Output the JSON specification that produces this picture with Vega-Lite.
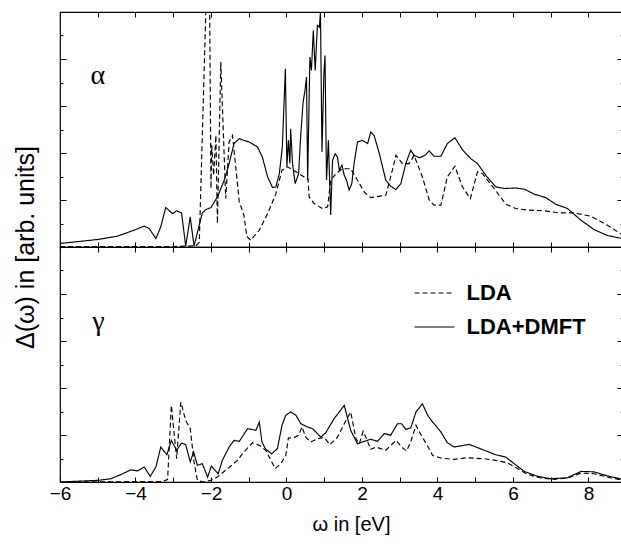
{
"$schema": "https://vega.github.io/schema/vega-lite/v6.json",
"padding": {"left": 12, "top": 10, "right": 0, "bottom": 0},
"spacing": 0,
"bounds": "flush",
"config": {
  "font": "Liberation Sans",
  "view": {"stroke": "black", "strokeWidth": 1.2},
  "axis": {"domain": false, "grid": false, "tickColor": "black", "tickWidth": 1, "labelColor": "black", "titleColor": "black", "labelFont": "Liberation Sans", "titleFont": "Liberation Sans", "titleFontWeight": "normal"}
},
"datasets": {
"alpha": [
{"w":-6,"d":0.15,"s":"LDA+DMFT"},{"w":-5,"d":0.32,"s":"LDA+DMFT"},{"w":-4.48,"d":0.46,"s":"LDA+DMFT"},{"w":-4.03,"d":0.72,"s":"LDA+DMFT"},{"w":-3.77,"d":0.89,"s":"LDA+DMFT"},{"w":-3.64,"d":0.79,"s":"LDA+DMFT"},{"w":-3.46,"d":0.36,"s":"LDA+DMFT"},{"w":-3.33,"d":0.86,"s":"LDA+DMFT"},{"w":-3.2,"d":1.68,"s":"LDA+DMFT"},{"w":-3.02,"d":1.42,"s":"LDA+DMFT"},{"w":-2.91,"d":1.54,"s":"LDA+DMFT"},{"w":-2.78,"d":1.45,"s":"LDA+DMFT"},{"w":-2.67,"d":0.04,"s":"LDA+DMFT"},{"w":-2.55,"d":1.28,"s":"LDA+DMFT"},{"w":-2.45,"d":0.04,"s":"LDA+DMFT"},{"w":-2.23,"d":1.45,"s":"LDA+DMFT"},{"w":-2.14,"d":1.59,"s":"LDA+DMFT"},{"w":-2.0,"d":1.68,"s":"LDA+DMFT"},{"w":-1.83,"d":2.13,"s":"LDA+DMFT"},{"w":-1.65,"d":2.84,"s":"LDA+DMFT"},{"w":-1.52,"d":3.55,"s":"LDA+DMFT"},{"w":-1.39,"d":4.4,"s":"LDA+DMFT"},{"w":-1.25,"d":4.61,"s":"LDA+DMFT"},{"w":-1.1,"d":4.52,"s":"LDA+DMFT"},{"w":-0.99,"d":4.47,"s":"LDA+DMFT"},{"w":-0.77,"d":4.26,"s":"LDA+DMFT"},{"w":-0.64,"d":3.83,"s":"LDA+DMFT"},{"w":-0.5,"d":2.98,"s":"LDA+DMFT"},{"w":-0.37,"d":2.53,"s":"LDA+DMFT"},{"w":-0.28,"d":2.56,"s":"LDA+DMFT"},{"w":-0.19,"d":3.12,"s":"LDA+DMFT"},{"w":-0.11,"d":4.26,"s":"LDA+DMFT"},{"w":-0.03,"d":7.58,"s":"LDA+DMFT"},{"w":0.01,"d":3.41,"s":"LDA+DMFT"},{"w":0.05,"d":4.54,"s":"LDA+DMFT"},{"w":0.09,"d":3.55,"s":"LDA+DMFT"},{"w":0.11,"d":5.03,"s":"LDA+DMFT"},{"w":0.16,"d":3.55,"s":"LDA+DMFT"},{"w":0.23,"d":2.7,"s":"LDA+DMFT"},{"w":0.32,"d":3.12,"s":"LDA+DMFT"},{"w":0.38,"d":4.82,"s":"LDA+DMFT"},{"w":0.44,"d":6.17,"s":"LDA+DMFT"},{"w":0.49,"d":6.66,"s":"LDA+DMFT"},{"w":0.53,"d":7.23,"s":"LDA+DMFT"},{"w":0.56,"d":2.84,"s":"LDA+DMFT"},{"w":0.62,"d":8.08,"s":"LDA+DMFT"},{"w":0.66,"d":7.51,"s":"LDA+DMFT"},{"w":0.71,"d":9.21,"s":"LDA+DMFT"},{"w":0.76,"d":7.51,"s":"LDA+DMFT"},{"w":0.82,"d":9.43,"s":"LDA+DMFT"},{"w":0.87,"d":9.35,"s":"LDA+DMFT"},{"w":0.9,"d":9.99,"s":"LDA+DMFT"},{"w":0.94,"d":4.04,"s":"LDA+DMFT"},{"w":0.99,"d":7.37,"s":"LDA+DMFT"},{"w":1.02,"d":8.15,"s":"LDA+DMFT"},{"w":1.06,"d":2.84,"s":"LDA+DMFT"},{"w":1.11,"d":4.54,"s":"LDA+DMFT"},{"w":1.17,"d":1.36,"s":"LDA+DMFT"},{"w":1.22,"d":3.69,"s":"LDA+DMFT"},{"w":1.29,"d":3.97,"s":"LDA+DMFT"},{"w":1.35,"d":3.83,"s":"LDA+DMFT"},{"w":1.4,"d":3.27,"s":"LDA+DMFT"},{"w":1.47,"d":3.48,"s":"LDA+DMFT"},{"w":1.53,"d":3.05,"s":"LDA+DMFT"},{"w":1.59,"d":2.84,"s":"LDA+DMFT"},{"w":1.66,"d":2.42,"s":"LDA+DMFT"},{"w":1.73,"d":2.7,"s":"LDA+DMFT"},{"w":1.79,"d":3.55,"s":"LDA+DMFT"},{"w":1.88,"d":4.47,"s":"LDA+DMFT"},{"w":2.01,"d":4.54,"s":"LDA+DMFT"},{"w":2.15,"d":4.4,"s":"LDA+DMFT"},{"w":2.23,"d":4.89,"s":"LDA+DMFT"},{"w":2.32,"d":4.75,"s":"LDA+DMFT"},{"w":2.46,"d":3.97,"s":"LDA+DMFT"},{"w":2.63,"d":2.84,"s":"LDA+DMFT"},{"w":2.76,"d":2.59,"s":"LDA+DMFT"},{"w":2.9,"d":2.44,"s":"LDA+DMFT"},{"w":3.03,"d":2.7,"s":"LDA+DMFT"},{"w":3.16,"d":3.55,"s":"LDA+DMFT"},{"w":3.29,"d":4.12,"s":"LDA+DMFT"},{"w":3.38,"d":3.9,"s":"LDA+DMFT"},{"w":3.52,"d":3.8,"s":"LDA+DMFT"},{"w":3.67,"d":3.9,"s":"LDA+DMFT"},{"w":3.78,"d":4.09,"s":"LDA+DMFT"},{"w":3.91,"d":3.86,"s":"LDA+DMFT"},{"w":4.09,"d":3.86,"s":"LDA+DMFT"},{"w":4.26,"d":4.4,"s":"LDA+DMFT"},{"w":4.46,"d":4.65,"s":"LDA+DMFT"},{"w":4.66,"d":4.14,"s":"LDA+DMFT"},{"w":4.88,"d":3.76,"s":"LDA+DMFT"},{"w":5.06,"d":3.55,"s":"LDA+DMFT"},{"w":5.28,"d":3.05,"s":"LDA+DMFT"},{"w":5.54,"d":2.56,"s":"LDA+DMFT"},{"w":5.77,"d":2.49,"s":"LDA+DMFT"},{"w":6.07,"d":2.51,"s":"LDA+DMFT"},{"w":6.3,"d":2.46,"s":"LDA+DMFT"},{"w":6.56,"d":2.25,"s":"LDA+DMFT"},{"w":6.87,"d":2.1,"s":"LDA+DMFT"},{"w":7.13,"d":1.82,"s":"LDA+DMFT"},{"w":7.44,"d":1.64,"s":"LDA+DMFT"},{"w":7.8,"d":1.14,"s":"LDA+DMFT"},{"w":8.15,"d":0.74,"s":"LDA+DMFT"},{"w":8.5,"d":0.49,"s":"LDA+DMFT"},{"w":8.95,"d":0.34,"s":"LDA+DMFT"},
{"w":-6,"d":0.02,"s":"LDA"},{"w":-3,"d":0.02,"s":"LDA"},{"w":-2.4,"d":0.05,"s":"LDA"},{"w":-2.31,"d":0.2,"s":"LDA"},{"w":-2.12,"d":11,"s":"LDA"},{"w":-2.04,"d":11,"s":"LDA"},{"w":-2.0,"d":2.49,"s":"LDA"},{"w":-1.98,"d":4.33,"s":"LDA"},{"w":-1.93,"d":3.05,"s":"LDA"},{"w":-1.87,"d":4.75,"s":"LDA"},{"w":-1.83,"d":1.0,"s":"LDA"},{"w":-1.74,"d":7.87,"s":"LDA"},{"w":-1.61,"d":2.06,"s":"LDA"},{"w":-1.52,"d":4.47,"s":"LDA"},{"w":-1.43,"d":4.75,"s":"LDA"},{"w":-1.25,"d":1.92,"s":"LDA"},{"w":-1.13,"d":1.36,"s":"LDA"},{"w":-1.05,"d":0.45,"s":"LDA"},{"w":-0.95,"d":0.29,"s":"LDA"},{"w":-0.72,"d":0.72,"s":"LDA"},{"w":-0.5,"d":1.42,"s":"LDA"},{"w":-0.28,"d":2.27,"s":"LDA"},{"w":-0.12,"d":3.27,"s":"LDA"},{"w":0.03,"d":3.41,"s":"LDA"},{"w":0.25,"d":3.2,"s":"LDA"},{"w":0.47,"d":2.98,"s":"LDA"},{"w":0.57,"d":2.9,"s":"LDA"},{"w":0.6,"d":2.13,"s":"LDA"},{"w":0.73,"d":1.85,"s":"LDA"},{"w":0.95,"d":1.64,"s":"LDA"},{"w":1.09,"d":1.71,"s":"LDA"},{"w":1.17,"d":2.84,"s":"LDA"},{"w":1.31,"d":3.12,"s":"LDA"},{"w":1.48,"d":3.33,"s":"LDA"},{"w":1.7,"d":3.33,"s":"LDA"},{"w":1.88,"d":2.84,"s":"LDA"},{"w":2.06,"d":2.34,"s":"LDA"},{"w":2.23,"d":2.1,"s":"LDA"},{"w":2.63,"d":2.2,"s":"LDA"},{"w":2.76,"d":2.98,"s":"LDA"},{"w":2.9,"d":3.9,"s":"LDA"},{"w":3.07,"d":3.55,"s":"LDA"},{"w":3.25,"d":3.55,"s":"LDA"},{"w":3.38,"d":3.9,"s":"LDA"},{"w":3.6,"d":2.98,"s":"LDA"},{"w":3.78,"d":2.0,"s":"LDA"},{"w":3.91,"d":1.78,"s":"LDA"},{"w":4.09,"d":1.78,"s":"LDA"},{"w":4.26,"d":2.98,"s":"LDA"},{"w":4.46,"d":3.44,"s":"LDA"},{"w":4.66,"d":2.56,"s":"LDA"},{"w":4.87,"d":2.06,"s":"LDA"},{"w":5.06,"d":3.2,"s":"LDA"},{"w":5.19,"d":3.12,"s":"LDA"},{"w":5.5,"d":2.49,"s":"LDA"},{"w":5.81,"d":1.82,"s":"LDA"},{"w":6.07,"d":1.64,"s":"LDA"},{"w":6.38,"d":1.57,"s":"LDA"},{"w":6.83,"d":1.54,"s":"LDA"},{"w":7.22,"d":1.45,"s":"LDA"},{"w":7.62,"d":1.45,"s":"LDA"},{"w":8.06,"d":1.31,"s":"LDA"},{"w":8.5,"d":0.93,"s":"LDA"},{"w":8.95,"d":0.46,"s":"LDA"}
],
"gamma": [
{"w":-6,"d":0.0,"s":"LDA+DMFT"},{"w":-5,"d":0.07,"s":"LDA+DMFT"},{"w":-4.65,"d":0.14,"s":"LDA+DMFT"},{"w":-4.34,"d":0.35,"s":"LDA+DMFT"},{"w":-4.12,"d":0.52,"s":"LDA+DMFT"},{"w":-3.95,"d":0.47,"s":"LDA+DMFT"},{"w":-3.77,"d":0.64,"s":"LDA+DMFT"},{"w":-3.61,"d":0.24,"s":"LDA+DMFT"},{"w":-3.46,"d":0.64,"s":"LDA+DMFT"},{"w":-3.33,"d":1.49,"s":"LDA+DMFT"},{"w":-3.17,"d":1.16,"s":"LDA+DMFT"},{"w":-3.05,"d":1.77,"s":"LDA+DMFT"},{"w":-2.91,"d":1.35,"s":"LDA+DMFT"},{"w":-2.78,"d":1.66,"s":"LDA+DMFT"},{"w":-2.67,"d":1.59,"s":"LDA+DMFT"},{"w":-2.55,"d":0.85,"s":"LDA+DMFT"},{"w":-2.46,"d":1.28,"s":"LDA+DMFT"},{"w":-2.36,"d":0.71,"s":"LDA+DMFT"},{"w":-2.23,"d":0.78,"s":"LDA+DMFT"},{"w":-2.09,"d":0.21,"s":"LDA+DMFT"},{"w":-1.99,"d":0.68,"s":"LDA+DMFT"},{"w":-1.81,"d":0.35,"s":"LDA+DMFT"},{"w":-1.7,"d":0.92,"s":"LDA+DMFT"},{"w":-1.52,"d":1.49,"s":"LDA+DMFT"},{"w":-1.39,"d":1.77,"s":"LDA+DMFT"},{"w":-1.25,"d":1.73,"s":"LDA+DMFT"},{"w":-1.1,"d":2.1,"s":"LDA+DMFT"},{"w":-1.03,"d":2.27,"s":"LDA+DMFT"},{"w":-0.81,"d":2.2,"s":"LDA+DMFT"},{"w":-0.72,"d":2.55,"s":"LDA+DMFT"},{"w":-0.65,"d":1.7,"s":"LDA+DMFT"},{"w":-0.55,"d":1.39,"s":"LDA+DMFT"},{"w":-0.39,"d":1.2,"s":"LDA+DMFT"},{"w":-0.24,"d":1.42,"s":"LDA+DMFT"},{"w":-0.12,"d":2.41,"s":"LDA+DMFT"},{"w":-0.02,"d":2.84,"s":"LDA+DMFT"},{"w":0.11,"d":2.98,"s":"LDA+DMFT"},{"w":0.25,"d":2.84,"s":"LDA+DMFT"},{"w":0.38,"d":2.48,"s":"LDA+DMFT"},{"w":0.56,"d":2.34,"s":"LDA+DMFT"},{"w":0.69,"d":2.27,"s":"LDA+DMFT"},{"w":0.91,"d":1.91,"s":"LDA+DMFT"},{"w":1.04,"d":2.1,"s":"LDA+DMFT"},{"w":1.26,"d":2.69,"s":"LDA+DMFT"},{"w":1.53,"d":3.26,"s":"LDA+DMFT"},{"w":1.7,"d":2.2,"s":"LDA+DMFT"},{"w":1.88,"d":1.63,"s":"LDA+DMFT"},{"w":2.01,"d":1.7,"s":"LDA+DMFT"},{"w":2.23,"d":1.82,"s":"LDA+DMFT"},{"w":2.41,"d":1.73,"s":"LDA+DMFT"},{"w":2.59,"d":2.06,"s":"LDA+DMFT"},{"w":2.76,"d":1.99,"s":"LDA+DMFT"},{"w":2.94,"d":2.48,"s":"LDA+DMFT"},{"w":3.05,"d":2.48,"s":"LDA+DMFT"},{"w":3.16,"d":2.24,"s":"LDA+DMFT"},{"w":3.29,"d":2.3,"s":"LDA+DMFT"},{"w":3.43,"d":2.98,"s":"LDA+DMFT"},{"w":3.6,"d":3.33,"s":"LDA+DMFT"},{"w":3.74,"d":2.84,"s":"LDA+DMFT"},{"w":3.87,"d":2.55,"s":"LDA+DMFT"},{"w":4.09,"d":2.13,"s":"LDA+DMFT"},{"w":4.26,"d":1.67,"s":"LDA+DMFT"},{"w":4.44,"d":1.49,"s":"LDA+DMFT"},{"w":4.84,"d":1.6,"s":"LDA+DMFT"},{"w":5.24,"d":1.35,"s":"LDA+DMFT"},{"w":5.54,"d":1.16,"s":"LDA+DMFT"},{"w":5.81,"d":1.06,"s":"LDA+DMFT"},{"w":6.03,"d":0.78,"s":"LDA+DMFT"},{"w":6.3,"d":0.45,"s":"LDA+DMFT"},{"w":6.65,"d":0.24,"s":"LDA+DMFT"},{"w":7.0,"d":0.14,"s":"LDA+DMFT"},{"w":7.44,"d":0.18,"s":"LDA+DMFT"},{"w":7.8,"d":0.45,"s":"LDA+DMFT"},{"w":8.15,"d":0.43,"s":"LDA+DMFT"},{"w":8.5,"d":0.26,"s":"LDA+DMFT"},{"w":8.95,"d":0.1,"s":"LDA+DMFT"},
{"w":-6,"d":0.0,"s":"LDA"},{"w":-3.3,"d":0.02,"s":"LDA"},{"w":-3.15,"d":0.1,"s":"LDA"},{"w":-3.05,"d":3.26,"s":"LDA"},{"w":-2.91,"d":0.99,"s":"LDA"},{"w":-2.8,"d":3.4,"s":"LDA"},{"w":-2.67,"d":2.62,"s":"LDA"},{"w":-2.55,"d":2.27,"s":"LDA"},{"w":-2.45,"d":0.85,"s":"LDA"},{"w":-2.36,"d":0.07,"s":"LDA"},{"w":-2.2,"d":0.0,"s":"LDA"},{"w":-2.0,"d":0.07,"s":"LDA"},{"w":-1.83,"d":0.21,"s":"LDA"},{"w":-1.56,"d":0.57,"s":"LDA"},{"w":-1.3,"d":0.92,"s":"LDA"},{"w":-1.17,"d":1.2,"s":"LDA"},{"w":-0.9,"d":1.67,"s":"LDA"},{"w":-0.72,"d":1.56,"s":"LDA"},{"w":-0.55,"d":1.35,"s":"LDA"},{"w":-0.39,"d":0.85,"s":"LDA"},{"w":-0.3,"d":0.57,"s":"LDA"},{"w":-0.15,"d":0.78,"s":"LDA"},{"w":-0.02,"d":1.13,"s":"LDA"},{"w":0.05,"d":1.87,"s":"LDA"},{"w":0.2,"d":1.89,"s":"LDA"},{"w":0.32,"d":1.99,"s":"LDA"},{"w":0.41,"d":2.34,"s":"LDA"},{"w":0.51,"d":1.91,"s":"LDA"},{"w":0.64,"d":1.7,"s":"LDA"},{"w":0.82,"d":1.84,"s":"LDA"},{"w":1.0,"d":1.89,"s":"LDA"},{"w":1.15,"d":1.59,"s":"LDA"},{"w":1.35,"d":1.91,"s":"LDA"},{"w":1.53,"d":2.48,"s":"LDA"},{"w":1.7,"d":2.98,"s":"LDA"},{"w":1.84,"d":1.84,"s":"LDA"},{"w":1.93,"d":1.63,"s":"LDA"},{"w":2.03,"d":2.16,"s":"LDA"},{"w":2.12,"d":1.84,"s":"LDA"},{"w":2.23,"d":1.39,"s":"LDA"},{"w":2.37,"d":1.49,"s":"LDA"},{"w":2.63,"d":1.35,"s":"LDA"},{"w":2.9,"d":1.77,"s":"LDA"},{"w":3.05,"d":1.49,"s":"LDA"},{"w":3.18,"d":1.32,"s":"LDA"},{"w":3.29,"d":1.7,"s":"LDA"},{"w":3.43,"d":2.41,"s":"LDA"},{"w":3.52,"d":2.13,"s":"LDA"},{"w":3.65,"d":1.77,"s":"LDA"},{"w":3.8,"d":1.35,"s":"LDA"},{"w":3.87,"d":1.13,"s":"LDA"},{"w":4.09,"d":1.02,"s":"LDA"},{"w":4.44,"d":0.96,"s":"LDA"},{"w":4.75,"d":1.03,"s":"LDA"},{"w":5.24,"d":0.99,"s":"LDA"},{"w":5.54,"d":0.92,"s":"LDA"},{"w":5.85,"d":0.82,"s":"LDA"},{"w":6.12,"d":0.57,"s":"LDA"},{"w":6.38,"d":0.33,"s":"LDA"},{"w":6.74,"d":0.17,"s":"LDA"},{"w":7.09,"d":0.11,"s":"LDA"},{"w":7.44,"d":0.17,"s":"LDA"},{"w":7.8,"d":0.38,"s":"LDA"},{"w":8.15,"d":0.35,"s":"LDA"},{"w":8.5,"d":0.21,"s":"LDA"},{"w":8.95,"d":0.06,"s":"LDA"}
]
},
"resolve": {"scale": {"strokeDash": "independent"}, "legend": {"strokeDash": "independent"}},
"vconcat": [
{
  "width": 563, "height": 235,
  "data": {"name": "alpha"},
  "layer": [
    {"mark": {"type": "line", "color": "black", "strokeWidth": 1.15, "clip": true},
     "encoding": {
       "x": {"field": "w", "type": "quantitative", "scale": {"domain": [-6, 8.914], "nice": false, "zero": false},
             "axis": {"orient": "bottom", "values": [-6,-5,-4,-3,-2,-1,0,1,2,3,4,5,6,7,8], "labels": false, "title": null, "tickSize": -5}},
       "y": {"field": "d", "type": "quantitative", "scale": {"domain": [0, 10], "nice": false, "zero": false},
             "axis": {"orient": "left", "values": [1,2,3,4,5,6,7,8,9], "labels": false, "title": "Δ(ω) in [arb. units]", "titleFontSize": 25, "titleX": -35, "titleY": 235, "titleBaseline": "middle", "titleAngle": 270, "titleAlign": "center",
                      "tickSize": {"condition": {"test": "datum.value % 2 === 0", "value": -6}, "value": -3}}},
       "strokeDash": {"field": "s", "type": "nominal", "scale": {"domain": ["LDA", "LDA+DMFT"], "range": [[5, 3], [1, 0]]}, "legend": null}
     }},
    {"mark": {"type": "point", "opacity": 0, "clip": true},
     "encoding": {
       "x": {"field": "w", "type": "quantitative", "axis": {"orient": "top", "values": [-6,-5,-4,-3,-2,-1,0,1,2,3,4,5,6,7,8], "labels": false, "title": null, "tickSize": -5}},
       "y": {"field": "d", "type": "quantitative", "axis": {"orient": "right", "values": [1,2,3,4,5,6,7,8,9], "labels": false, "title": null,
              "tickSize": {"condition": {"test": "datum.value % 2 === 0", "value": -6}, "value": -3}}}
     }},
    {"data": {"values": [{"t": "α"}]},
     "mark": {"type": "text", "font": "Liberation Serif", "fontSize": 28, "baseline": "alphabetic", "align": "center", "color": "black"},
     "encoding": {
       "x": {"datum": -5.0, "type": "quantitative", "axis": null},
       "y": {"datum": 6.93, "type": "quantitative", "axis": null},
       "text": {"field": "t"}
     }}
  ],
  "resolve": {"axis": {"x": "independent", "y": "independent"}}
},
{
  "width": 563, "height": 235,
  "data": {"name": "gamma"},
  "layer": [
    {"mark": {"type": "line", "color": "black", "strokeWidth": 1.15, "clip": true},
     "encoding": {
       "x": {"field": "w", "type": "quantitative", "scale": {"domain": [-6, 8.914], "nice": false, "zero": false},
             "axis": {"orient": "bottom", "values": [-6,-5,-4,-3,-2,-1,0,1,2,3,4,5,6,7,8], "labelExpr": "datum.value % 2 === 0 ? datum.label : ''", "labelFontSize": 19, "labelPadding": 7, "labelFlush": false, "labelOverlap": false, "title": "ω in [eV]", "titleFontSize": 20, "titlePadding": 11, "titleX": 291, "tickSize": -5}},
       "y": {"field": "d", "type": "quantitative", "scale": {"domain": [0, 10], "nice": false, "zero": false},
             "axis": {"orient": "left", "values": [1,2,3,4,5,6,7,8,9], "labels": false, "title": null,
                      "tickSize": {"condition": {"test": "datum.value % 2 === 0", "value": -6}, "value": -3}}},
       "strokeDash": {"field": "s", "type": "nominal", "scale": {"domain": ["LDA", "LDA+DMFT"], "range": [[5, 3], [1, 0]]},
             "legend": {"orient": "none", "legendX": 353.5, "legendY": 25, "title": null, "symbolType": "stroke", "symbolSize": 1600, "symbolStrokeColor": "black", "symbolStrokeWidth": 1.2, "labelFontSize": 22, "labelFontWeight": "bold", "labelFont": "Liberation Sans", "labelColor": "black", "labelOffset": 11, "rowPadding": 2, "padding": 0, "labelLimit": 300}}
     }},
    {"mark": {"type": "point", "opacity": 0, "clip": true},
     "encoding": {
       "x": {"field": "w", "type": "quantitative", "axis": {"orient": "top", "values": [-6,-5,-4,-3,-2,-1,0,1,2,3,4,5,6,7,8], "labels": false, "title": null, "tickSize": -5}},
       "y": {"field": "d", "type": "quantitative", "axis": {"orient": "right", "values": [1,2,3,4,5,6,7,8,9], "labels": false, "title": null,
              "tickSize": {"condition": {"test": "datum.value % 2 === 0", "value": -6}, "value": -3}}}
     }},
    {"data": {"values": [{"t": "γ"}]},
     "mark": {"type": "text", "font": "Liberation Serif", "fontSize": 28, "baseline": "alphabetic", "align": "center", "color": "black"},
     "encoding": {
       "x": {"datum": -4.98, "type": "quantitative", "axis": null},
       "y": {"datum": 6.47, "type": "quantitative", "axis": null},
       "text": {"field": "t"}
     }}
  ],
  "resolve": {"axis": {"x": "independent", "y": "independent"}}
}
]
}
